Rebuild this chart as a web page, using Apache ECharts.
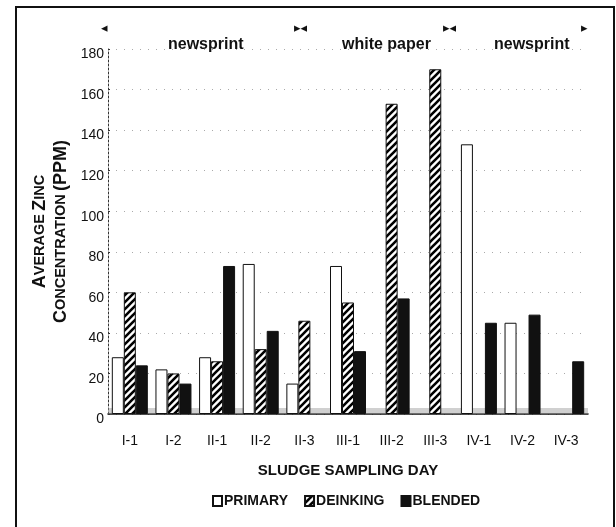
<!DOCTYPE html>
<html>
<head>
<meta charset="utf-8">
<script src="https://cdn.jsdelivr.net/npm/echarts@6/dist/echarts.min.js"></script>
<style>
  html, body { margin: 0; padding: 0; background: #fff; }
  #wrap { position: relative; width: 616px; height: 527px; overflow: hidden; }
  #chart { width: 616px; height: 527px; }
  #frame { position: absolute; left: 15px; top: 6px; width: 596px; height: 540px;
           border: 2px solid #111; pointer-events: none; }
</style>
</head>
<body>
<div id="wrap">
  <div id="chart"></div>
  <div id="frame"></div>
</div>
<script>
// sampling days
var days = ['I-1', 'I-2', 'II-1', 'II-2', 'II-3', 'III-1', 'III-2', 'III-3', 'IV-1', 'IV-2', 'IV-3'];
// average zinc, ppm
var primary  = [28, 22, 28, 74, 15, 73, null, null, 133, 45, null];
var deinking = [60, 20, 26, 32, 46, 55, 153, 170, null, null, null];
var blended  = [24, 15, 73, 41, null, 31, 57, null, 45, 49, 26];
var yTicks = [0, 20, 40, 60, 80, 100, 120, 140, 160, 180];

// hatched fill for the deinking bars
function hatch() {
  var c = document.createElement('canvas');
  c.width = 7; c.height = 7;
  var g = c.getContext('2d');
  g.fillStyle = '#fff';
  g.fillRect(0, 0, 7, 7);
  g.strokeStyle = '#000';
  g.lineWidth = 2.6;
  g.beginPath();
  g.moveTo(-2, 9); g.lineTo(9, -2);
  g.moveTo(-9, 9); g.lineTo(2, -2);
  g.moveTo(5, 9); g.lineTo(16, -2);
  g.stroke();
  return { image: c, repeat: 'repeat' };
}

var chart = echarts.init(document.getElementById('chart'));

var option = {
  backgroundColor: '#fff',
  animation: false,
  textStyle: { fontFamily: 'Liberation Sans, Arial, sans-serif', color: '#111' },
  grid: { left: 108, right: 28, top: 49, bottom: 113 },
  legend: {
    left: 207, top: 489,
    itemWidth: 9, itemHeight: 10, itemGap: 16,
    icon: 'rect',
    textStyle: { fontSize: 14, fontWeight: 'bold', color: '#111', padding: [0, 0, 0, -3] },
    data: ['PRIMARY', 'DEINKING', 'BLENDED']
  },
  xAxis: {
    type: 'category',
    data: days,
    name: 'SLUDGE SAMPLING DAY',
    nameLocation: 'middle',
    nameGap: 49,
    nameTextStyle: { fontSize: 15, fontWeight: 'bold', color: '#111' },
    axisLine: { lineStyle: { color: '#111', width: 1.5 } },
    axisTick: { show: false },
    axisLabel: { fontSize: 14, color: '#111', margin: 20, interval: 0 }
  },
  yAxis: {
    type: 'value',
    min: 0, max: 180, interval: 20,
    name: '{b|A}{s|VERAGE} {b|Z}{s|INC}\n{b|C}{s|ONCENTRATION} {b|(PPM)}',
    nameLocation: 'middle',
    nameGap: 36,
    nameTextStyle: {
      rich: {
        b: { fontSize: 18, fontWeight: 'bold', color: '#111', lineHeight: 21 },
        s: { fontSize: 14.5, fontWeight: 'bold', color: '#111', lineHeight: 21 }
      }
    },
    axisLine: { show: true, lineStyle: { color: '#333', width: 1, type: [2, 2] } },
    axisTick: { show: true, length: 2, inside: true, lineStyle: { color: '#333' } },
    axisLabel: {
      fontSize: 14, color: '#111', margin: 4,
      verticalAlign: 'top', lineHeight: 11,
      formatter: function (v) { return yTicks.indexOf(v) >= 0 ? String(v) : ''; }
    },
    splitLine: { show: true, lineStyle: { color: '#aaa', width: 1, type: [1, 7] } }
  },
  graphic: [
    { type: 'text', left: 101, top: 22, style: { text: '◂', font: '13px DejaVu Sans', fill: '#111' } },
    { type: 'text', left: 294, top: 22, style: { text: '▸◂', font: '13px DejaVu Sans', fill: '#111' } },
    { type: 'text', left: 443, top: 22, style: { text: '▸◂', font: '13px DejaVu Sans', fill: '#111' } },
    { type: 'text', left: 581, top: 22, style: { text: '▸', font: '13px DejaVu Sans', fill: '#111' } },
    { type: 'text', left: 168, top: 37, style: { text: 'newsprint', font: 'bold 16px Liberation Sans', fill: '#111' } },
    { type: 'text', left: 342, top: 37, style: { text: 'white paper', font: 'bold 16px Liberation Sans', fill: '#111' } },
    { type: 'text', left: 494, top: 37, style: { text: 'newsprint', font: 'bold 16px Liberation Sans', fill: '#111' } }
  ],
  series: [
    {
      name: 'PRIMARY', type: 'bar', data: primary,
      barWidth: 12, barGap: '0%',
      itemStyle: { color: '#fff', borderColor: '#111', borderWidth: 1 }
    },
    {
      name: 'DEINKING', type: 'bar', data: deinking,
      barWidth: 12, barGap: '0%',
      itemStyle: { color: hatch(), borderColor: '#111', borderWidth: 1 }
    },
    {
      name: 'BLENDED', type: 'bar', data: blended,
      barWidth: 12, barGap: '0%',
      itemStyle: { color: '#111', borderColor: '#111', borderWidth: 1 },
      markArea: {
        silent: true,
        itemStyle: { color: 'rgba(150,150,150,0.45)' },
        data: [[{ yAxis: 0 }, { yAxis: 3 }]]
      }
    }
  ]
};

chart.setOption(option);
</script>
</body>
</html>
